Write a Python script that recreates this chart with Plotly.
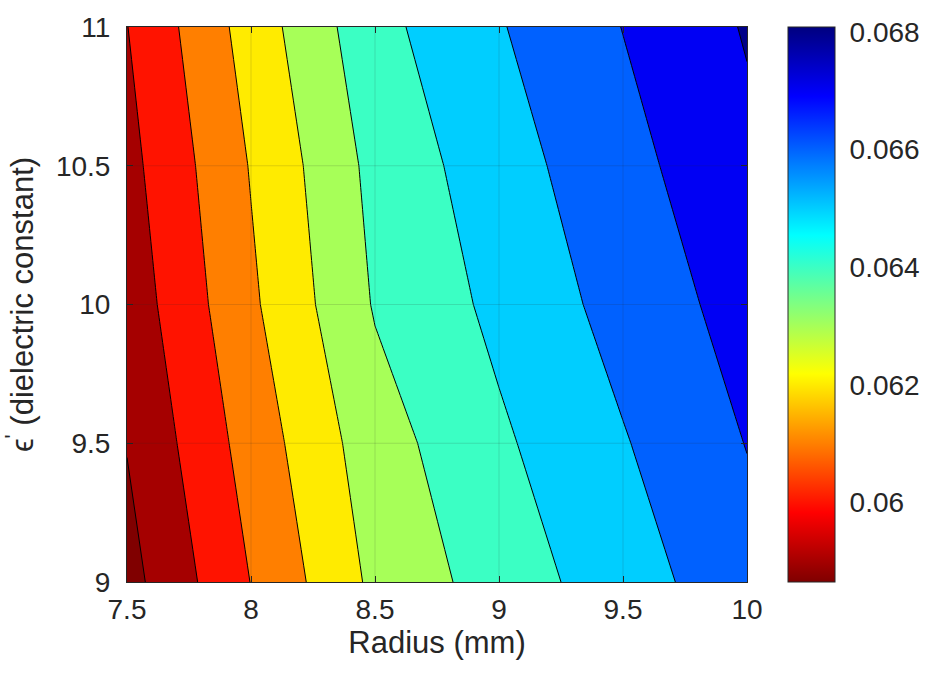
import plotly.graph_objects as go

# ---------------- data ----------------
radius_mm = [7.5, 8.0, 8.5, 9.0, 9.5, 10.0]
epsilon_prime = [9.0, 9.5, 10.0, 10.5, 11.0]

q_eps_9_0 = [0.05865, 0.06102, 0.06322, 0.06446, 0.06554, 0.06663]
q_eps_9_5 = [0.05904, 0.06142, 0.06356, 0.06484, 0.06593, 0.06703]
q_eps_10_0 = [0.05941, 0.06183, 0.06408, 0.06524, 0.06636, 0.06739]
q_eps_10_5 = [0.05969, 0.06206, 0.06429, 0.06557, 0.06668, 0.06776]
q_eps_11_0 = [0.05998, 0.06243, 0.06469, 0.06593, 0.06702, 0.06808]

contour_levels = [0.059, 0.060, 0.061, 0.062, 0.063, 0.064, 0.065, 0.066, 0.067, 0.068]

x_ticks = [7.5, 8, 8.5, 9, 9.5, 10]
x_ticktext = ["7.5", "8", "8.5", "9", "9.5", "10"]
y_ticks = [9, 9.5, 10, 10.5, 11]
y_ticktext = ["9", "9.5", "10", "10.5", "11"]
cb_ticks = [0.060, 0.062, 0.064, 0.066, 0.068]
cb_ticktext = ["0.06", "0.062", "0.064", "0.066", "0.068"]

z = [q_eps_9_0, q_eps_9_5, q_eps_10_0, q_eps_10_5, q_eps_11_0]
zmin = min(min(r) for r in z)
zmax = max(max(r) for r in z)


# ---------------- colours (MATLAB jet, flipped) ----------------
def clip(v):
    return max(0.0, min(1.0, v))


def jet(v):
    r = clip(1.5 - abs(4 * v - 3))
    g = clip(1.5 - abs(4 * v - 2))
    b = clip(1.5 - abs(4 * v - 1))
    return "rgb(%d,%d,%d)" % (round(r * 255), round(g * 255), round(b * 255))


def jet_r(f):
    return jet(1 - f)


band_values = [zmin] + contour_levels
band_colors = [jet_r((v - zmin) / (zmax - zmin)) for v in band_values]
nb = len(band_colors)
contour_scale = [[i / (nb - 1), c] for i, c in enumerate(band_colors)]
cbar_scale = [[i / 64, jet_r(i / 64)] for i in range(65)]

FONT = "Liberation Sans, Arial, Helvetica, sans-serif"
TXT = "#262626"
FS = 28
FS_T = 31

fig = go.Figure()
fig.add_trace(go.Contour(
    x=radius_mm, y=epsilon_prime, z=z,
    contours=dict(start=contour_levels[0], end=contour_levels[-1],
                  size=round(contour_levels[1] - contour_levels[0], 6),
                  coloring="fill"),
    colorscale=contour_scale,
    line=dict(color="black", width=1, smoothing=0),
    showscale=False,
    hoverinfo="skip",
))

# continuous colour bar (MATLAB-style gradient)
fig.add_trace(go.Scatter(
    x=[radius_mm[0]], y=[epsilon_prime[0]], mode="markers",
    marker=dict(size=0.1, opacity=0, color=[zmin], cmin=zmin, cmax=zmax,
                colorscale=cbar_scale, showscale=True,
                colorbar=dict(
                    x=(789 - 127) / 621, xanchor="left", xpad=0,
                    y=0.5, yanchor="middle", ypad=0,
                    len=1.0, lenmode="fraction",
                    thickness=47, thicknessmode="pixels",
                    outlinewidth=1, outlinecolor=TXT,
                    tickvals=cb_ticks, ticktext=cb_ticktext,
                    ticks="outside", ticklen=9, tickcolor="rgba(0,0,0,0)",
                    tickfont=dict(family=FONT, size=FS, color=TXT),
                )),
    hoverinfo="skip", showlegend=False,
))

# faint grid drawn on top of the filled contours (as MATLAB does)
shapes = []
for xv in x_ticks[1:-1]:
    shapes.append(dict(type="line", xref="x", yref="y domain", x0=xv, x1=xv, y0=0, y1=1,
                       line=dict(color="rgba(38,38,38,0.15)", width=1), layer="above"))
for yv in y_ticks[1:-1]:
    shapes.append(dict(type="line", xref="x domain", yref="y", x0=0, x1=1, y0=yv, y1=yv,
                       line=dict(color="rgba(38,38,38,0.15)", width=1), layer="above"))
# small inside tick marks on the colour bar's right edge
for cv in cb_ticks[:-1]:
    yy = epsilon_prime[0] + (cv - zmin) / (zmax - zmin) * (epsilon_prime[-1] - epsilon_prime[0])
    shapes.append(dict(type="line", xref="paper", yref="y", x0=(836 - 127) / 621 - 0.008,
                       x1=(836 - 127) / 621, y0=yy, y1=yy,
                       line=dict(color=TXT, width=1), layer="above"))

axis_common = dict(showline=True, mirror="ticks", linecolor=TXT, linewidth=1,
                   ticks="inside", ticklen=6, tickcolor=TXT, showgrid=False,
                   zeroline=False, tickfont=dict(family=FONT, size=FS, color=TXT))

fig.update_layout(
    width=933, height=687,
    margin=dict(l=127, r=185, t=19, b=105),
    paper_bgcolor="white", plot_bgcolor="white",
    shapes=shapes,
    showlegend=False,
    xaxis=dict(range=[radius_mm[0], radius_mm[-1]], tickvals=x_ticks, ticktext=x_ticktext,
               ticklabelstandoff=2,
               title=dict(text="Radius (mm)", font=dict(family=FONT, size=FS_T, color=TXT), standoff=4),
               **axis_common),
    yaxis=dict(range=[epsilon_prime[0], epsilon_prime[-1]], tickvals=y_ticks, ticktext=y_ticktext,
               ticklabelstandoff=10,
               title=dict(text="\u03f5<sup>'</sup> (dielectric constant)",
                          font=dict(family=FONT, size=FS_T, color=TXT), standoff=14),
               **axis_common),
)

fig.write_html("out.html")
